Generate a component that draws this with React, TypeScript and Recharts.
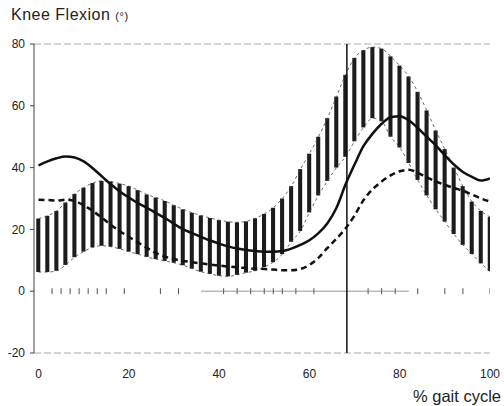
import React from 'react';
import {
  ComposedChart,
  Bar,
  Line,
  Scatter,
  XAxis,
  YAxis,
  ReferenceLine,
} from 'recharts';

// the picture is as wide as the window, so drop the default body margin
document.body.style.margin = '0';

// % of gait cycle, one hatch stripe every 2 %
const pct = [
  0, 2, 4, 6, 8, 10, 12, 14, 16, 18, 20, 22, 24, 26, 28, 30, 32, 34, 36, 38, 40,
  42, 44, 46, 48, 50, 52, 54, 56, 58, 60, 62, 64, 66, 68, 70, 72, 74, 76, 78, 80,
  82, 84, 86, 88, 90, 92, 94, 96, 98, 100,
];

// normal band (hatched), upper and lower limit
const upperBand = [
  23.5, 24.4, 26, 28.7, 31.5, 33.5, 35, 35.7, 35.5, 34.8, 34, 32.7, 31.3, 30.3,
  29.2, 27.8, 26.5, 25.4, 24.5, 23.7, 23, 22.5, 22.3, 22.6, 23.6, 25, 27, 30, 34,
  39.5, 44.5, 50, 56, 63, 70, 75.5, 78, 79, 78.5, 76, 73, 69.5, 64.5, 58.5, 52,
  46, 40, 34, 29, 26, 24,
];
const lowerBand = [
  6.2, 6.2, 6.6, 8.5, 11, 12.8, 14.2, 14.7, 14.4, 13.7, 12.8, 12, 11.1, 10.4, 9.8,
  9.2, 8.4, 7.3, 6.3, 5.6, 5, 4.8, 5.3, 6, 6.6, 7.8, 9.4, 12, 16, 19.5, 25.5, 31,
  35.7, 40, 43.5, 48.5, 53, 56, 55, 50, 46.5, 41.5, 36, 31, 26.5, 22.5, 18.5, 15,
  12, 9, 6.5,
];

// patient curves
const solidCurve = [
  40.7, 42, 43, 43.6, 43.3, 42, 39.8, 37.2, 34.6, 32.3, 30.3, 28.5, 27, 25.3,
  23.7, 21.8, 20.1, 18.8, 17.6, 16.4, 15.4, 14.5, 13.8, 13.3, 13, 12.8, 12.8, 13,
  13.8, 15, 16.5, 18.8, 22, 27, 34.5, 41, 47, 51, 54.2, 56.3, 56.6, 55.3, 52.8,
  50, 47.2, 44, 41, 38.6, 37, 35.8, 36.5,
];
const dashedCurve = [
  29.6, 29.5, 29.3, 29.6, 29.2, 27.8, 26, 23.8, 21.5, 19.4, 17.6, 15.8, 14, 12.3,
  11.2, 10.4, 9.8, 9.4, 9, 8.6, 8.3, 8, 7.7, 7.5, 7.3, 7.2, 7, 6.8, 6.8, 7.2, 8.5,
  10.8, 14, 17, 20.3, 24.5, 29.5, 33, 35.5, 37.5, 38.8, 39.3, 38.3, 36.8, 35.5,
  34.4, 33.4, 32.5, 31.3, 30, 29,
];

const xTicks = [0, 20, 40, 60, 80, 100];
const yTicks = [-20, 0, 20, 40, 60, 80];
// little marks along the zero line
const zeroMarks = [3, 5, 7, 9, 11, 13, 15, 19, 27, 31, 41, 44, 47, 50, 52, 54, 57, 61, 73, 76, 79, 84, 90, 94, 100];
const toeOff = 68.3;
const zeroLineFrom = 36;
const zeroLineTo = 82;

const data = pct.map((p, i) => ({
  p,
  band: [lowerBand[i], upperBand[i]],
  upper: upperBand[i],
  lower: lowerBand[i],
  solid: solidCurve[i],
  dashed: dashedCurve[i],
}));

const markData = zeroMarks.map((p) => ({ p, mark: 0 }));

const font = '"Liberation Sans", Arial, sans-serif';

const TickMark = (props: any) => (
  <line x1={props.cx} x2={props.cx} y1={props.cy - 3} y2={props.cy + 3} stroke="#555" strokeWidth={1} />
);

export default function App() {
  return (
    <div style={{ position: 'relative', width: 504, height: 406, overflow: 'hidden', fontFamily: font, background: '#fff' }}>
      <div
        style={{
          position: 'absolute',
          left: 11,
          top: 7,
          fontSize: 16,
          lineHeight: '16px',
          letterSpacing: 0.5,
          color: '#222',
          whiteSpace: 'nowrap',
        }}
      >
        Knee Flexion <span style={{ fontSize: 11 }}>(°)</span>
      </div>
      <div
        style={{
          position: 'absolute',
          left: 413,
          top: 388,
          fontSize: 16.5,
          lineHeight: '16px',
          color: '#222',
          whiteSpace: 'nowrap',
        }}
      >
        % gait cycle
      </div>
      <div style={{ position: 'absolute', left: 8, top: 8 }}>
        <ComposedChart
          width={496}
          height={390}
          data={data}
          margin={{ top: 36, right: 14, left: 0, bottom: 0 }}
        >
          <XAxis
            dataKey="p"
            type="number"
            domain={[-1, 100]}
            ticks={xTicks}
            axisLine={false}
            tickLine={false}
            tickMargin={10}
            height={45}
            allowDataOverflow
            tick={{ fontSize: 12, fill: '#222', fontFamily: font }}
          />
          <YAxis
            type="number"
            domain={[-20, 80]}
            ticks={yTicks}
            width={26}
            allowDataOverflow
            axisLine={{ stroke: '#444' }}
            tickLine={{ stroke: '#444' }}
            tickSize={4}
            tickMargin={5}
            tick={{ fontSize: 12, fill: '#222', fontFamily: font }}
          />
          <ReferenceLine y={80} stroke="#aaa" strokeDasharray="7 3" />
          <ReferenceLine y={-20} stroke="#aaa" strokeDasharray="7 3" />
          <ReferenceLine
            segment={[{ x: zeroLineFrom, y: 0 }, { x: zeroLineTo, y: 0 }]}
            stroke="#999"
          />
          <Bar dataKey="band" barSize={5} fill="#1c1c1c" isAnimationActive={false} />
          <Line dataKey="upper" type="monotone" stroke="#444" strokeWidth={0.8} strokeDasharray="3 3" dot={false} isAnimationActive={false} />
          <Line dataKey="lower" type="monotone" stroke="#444" strokeWidth={0.8} strokeDasharray="3 3" dot={false} isAnimationActive={false} />
          <Line dataKey="solid" type="monotone" stroke="#111" strokeWidth={2.5} dot={false} isAnimationActive={false} />
          <Line dataKey="dashed" type="monotone" stroke="#111" strokeWidth={2.5} strokeDasharray="6 4" dot={false} isAnimationActive={false} />
          <Scatter data={markData} dataKey="mark" shape={TickMark} isAnimationActive={false} />
          <ReferenceLine x={toeOff} stroke="#111" strokeWidth={1.5} />
        </ComposedChart>
      </div>
    </div>
  );
}
